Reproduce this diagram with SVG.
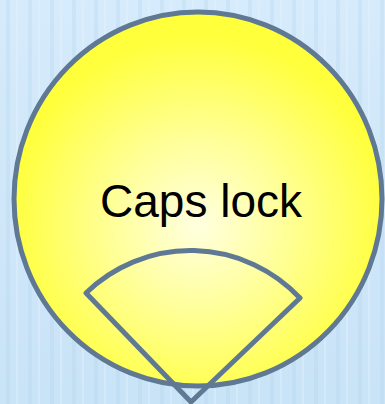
<svg xmlns="http://www.w3.org/2000/svg" width="385" height="404" viewBox="0 0 385 404">
  <defs>
    <linearGradient id="bg" x1="0" y1="0" x2="0" y2="1">
      <stop offset="0" stop-color="#d6ebfb"/>
      <stop offset="1" stop-color="#c9e3f7"/>
    </linearGradient>
    <pattern id="stripes" width="22" height="404" patternUnits="userSpaceOnUse">
      <rect x="6" y="0" width="4" height="404" fill="#b5d4ee" opacity="0.3"/>
      <rect x="16" y="0" width="2" height="404" fill="#e6f3fd" opacity="0.35"/>
    </pattern>
    <radialGradient id="glow" cx="198" cy="225" r="190" gradientUnits="userSpaceOnUse">
      <stop offset="0" stop-color="#ffffe0"/>
      <stop offset="0.45" stop-color="#ffff9a"/>
      <stop offset="1" stop-color="#ffff3c"/>
    </radialGradient>
    <style>
      .outline { stroke: #5f7893; stroke-width: 5; stroke-linejoin: round; }
      .label { font-family: "Liberation Sans", Arial, sans-serif; font-size: 46px; fill: #000; }
    </style>
  </defs>
  <rect width="385" height="404" fill="url(#bg)"/>
  <rect width="385" height="404" fill="url(#stripes)"/>
  <g id="node-caps-lock">
    <ellipse class="outline" cx="198" cy="199" rx="184" ry="187" fill="url(#glow)"/>
    <text class="label" x="201" y="217" text-anchor="middle">Caps lock</text>
  </g>
  <g id="node-sector">
    <path class="outline" fill="none" d="M 191 402 L 86 293 A 150 150 0 0 1 300 298 Z"/>
  </g>
  <g id="connectors"/>
</svg>
